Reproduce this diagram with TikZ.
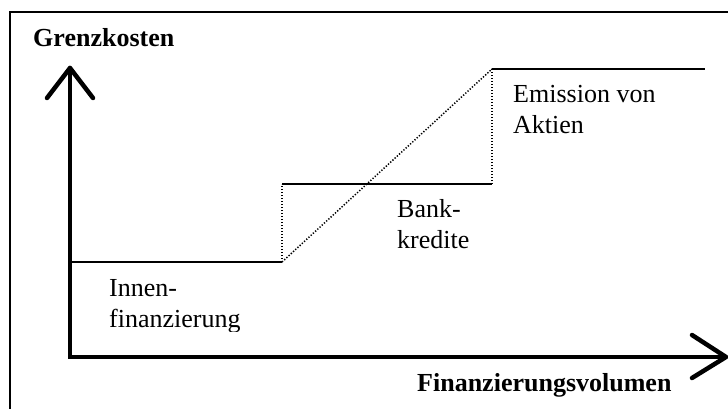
\documentclass[tikz,border=0pt]{standalone}
\usepackage{fontspec}
\setmainfont{Liberation Serif}
\begin{document}
\begin{tikzpicture}[x=1pt,y=-1pt,
  lbl/.style={font=\fontsize{26}{31}\selectfont, inner sep=0pt, anchor=base west, align=left},
  blbl/.style={font=\fontsize{26}{31}\selectfont\bfseries, inner sep=0pt, anchor=base west},
  axis/.style={line width=4.5pt, line cap=round, line join=miter},
  chev/.style={line width=4.5pt, line cap=round, line join=round},
  stepline/.style={line width=1.8pt},
  dots/.style={line width=1.5pt, dash pattern=on 1.3pt off 1.7pt}]
\useasboundingbox (0,0) rectangle (728,409);
% frame
\coordinate (fbl) at (10,409);
\coordinate (ftl) at (10,12);
\coordinate (ftr) at (728,12);
\draw[line width=2pt] (fbl) -- (ftl) -- (ftr);
% axes
\coordinate (O) at (70,357);
\coordinate (ytip) at (70,68);
\coordinate (xtip) at (726,357);
\coordinate (yl) at (47,98);
\coordinate (yr) at (93,98);
\coordinate (xu) at (692,335);
\coordinate (xd) at (692,378);
\draw[axis] (ytip) -- (O) -- (xtip);
\draw[chev] (yl) -- (ytip) -- (yr);
\draw[chev] (xu) -- (xtip) -- (xd);
% steps
\coordinate (a1) at (70,262);
\coordinate (a2) at (282,262);
\coordinate (b1) at (282,184);
\coordinate (b2) at (492,184);
\coordinate (c1) at (492,69);
\coordinate (c2) at (705,69);
\draw[stepline] (a1) -- (a2);
\draw[stepline] (b1) -- (b2);
\draw[stepline] (c1) -- (c2);
\draw[dots] (a2) -- (b1);
\draw[dots] (b2) -- (c1);
\draw[dots] (a2) -- (c1);
% labels (base anchor = baseline of last line)
\node[blbl] (gk) at (33,47) {Grenzkosten};
\node[blbl] (fv) at (417,391) {Finanzierungsvolumen};
\node[lbl] (em) at (513,134) {Emission von\\Aktien};
\node[lbl] (bk) at (397,248) {Bank-\\kredite};
\begin{scope}
\clip (0,0) rectangle (728,331);
\node[lbl] (inn) at (109,327) {Innen-\\finanzierung};
\end{scope}
\end{tikzpicture}
\end{document}
